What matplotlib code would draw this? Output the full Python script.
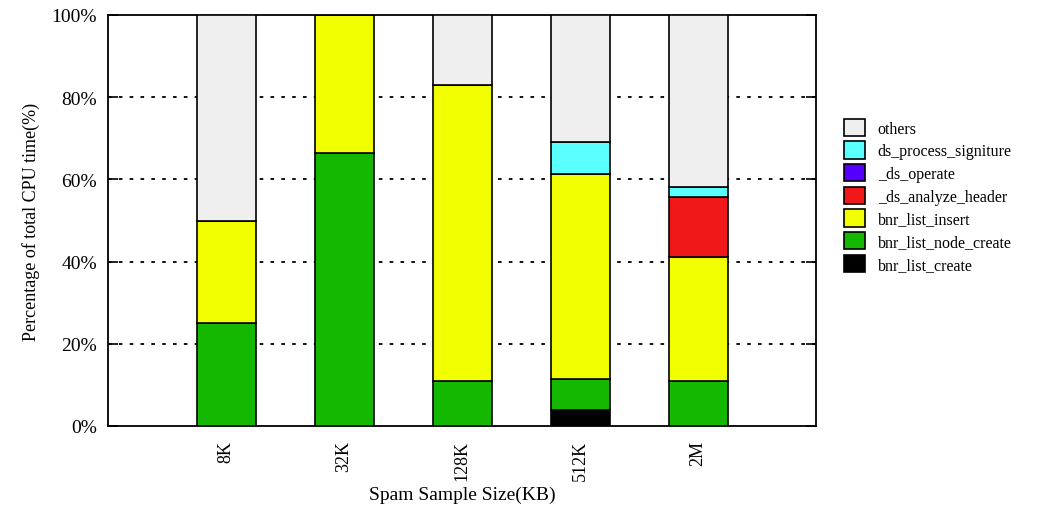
import matplotlib.pyplot as plt
from matplotlib.patches import Patch

plt.rcParams['font.family'] = ['Liberation Serif', 'DejaVu Serif']

# data
sizes = ['8K', '32K', '128K', '512K', '2M']
series = ['bnr_list_create', 'bnr_list_node_create', 'bnr_list_insert',
          '_ds_analyze_header', '_ds_operate', 'ds_process_signiture', 'others']
bnr_list_create = [0, 0, 0, 3.8, 0]
bnr_list_node_create = [25, 66.5, 11, 7.6, 11]
bnr_list_insert = [25, 33.5, 72, 50, 30.2]
ds_analyze_header = [0, 0, 0, 0, 14.4]
ds_operate = [0, 0, 0, 0, 0]
ds_process_signiture = [0, 0, 0, 7.8, 2.6]
others = [50, 0, 17, 30.8, 41.8]

values = [bnr_list_create, bnr_list_node_create, bnr_list_insert,
          ds_analyze_header, ds_operate, ds_process_signiture, others]
colors = ['#000000', '#14b800', '#f2ff00', '#f01818', '#5500ff', '#5affff', '#efefef']

fig = plt.figure(figsize=(10.42, 5.10), dpi=100)
ax = fig.add_axes([108 / 1042, 1 - 427 / 510, 708 / 1042, 411 / 510])

x = list(range(len(sizes)))
bottom = [0.0] * len(sizes)
for name, vals, col in zip(series, values, colors):
    ax.bar(x, vals, width=0.5, bottom=bottom, color=col, edgecolor='black',
           linewidth=1.2, zorder=3)
    bottom = [b + v for b, v in zip(bottom, vals)]

ax.set_xlim(-1, 5)
ax.set_ylim(0, 100)
ax.set_yticks([0, 20, 40, 60, 80, 100])
ax.set_yticklabels(['0%', '20%', '40%', '60%', '80%', '100%'], fontsize=14)
ax.set_xticks(x)
ax.set_xticklabels(sizes, rotation=90, fontsize=13)
ax.tick_params(axis='x', length=0, pad=10)
ax.tick_params(axis='y', direction='in', length=7, width=1.2, right=True, pad=8)
for y in [20, 40, 60, 80]:
    ax.axhline(y, color='black', linestyle=(0, (2, 4)), linewidth=1.3, zorder=1)
for s in ax.spines.values():
    s.set_linewidth(1.3)

ax.set_ylabel('Percentage of total CPU time(%)', fontsize=13, labelpad=8)
ax.set_xlabel('Spam Sample Size(KB)', fontsize=14, labelpad=4)

handles = [Patch(facecolor=c, edgecolor='black', linewidth=1.2)
           for c in colors[::-1]]
fig.legend(handles, series[::-1], loc='upper left', bbox_to_anchor=(0.804, 0.778),
           frameon=False, fontsize=11.5, handlelength=1.3, handleheight=1.3,
           handletextpad=0.8, labelspacing=0.29, borderaxespad=0)

fig.savefig('out.png', dpi=100)
